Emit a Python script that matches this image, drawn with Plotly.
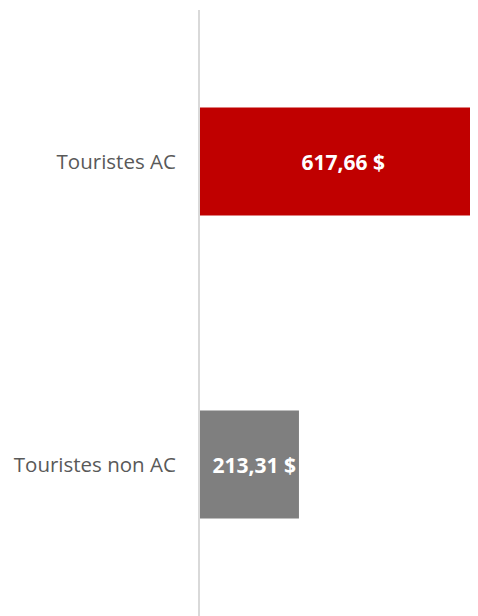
import plotly.graph_objects as go

categories = ["Touristes AC", "Touristes non AC"]
values = [617.66, 213.31]
labels = ["617,66 $", "213,31 $"]
colors = ["#C00000", "#7F7F7F"]
anchors = ["middle", "end"]

fig = go.Figure()
for cat, val, lab, col, anc in zip(categories, values, labels, colors, anchors):
    fig.add_trace(go.Bar(
        y=[cat], x=[val], orientation="h",
        marker=dict(color=col, line=dict(width=0)),
        width=0.356,
        text=[lab], textposition="inside", insidetextanchor=anc,
        constraintext="none",
        textfont=dict(family="Open Sans", size=21, color="white", weight="bold"),
        showlegend=False,
    ))

fig.update_layout(
    width=462, height=608,
    margin=dict(l=192, r=0, t=2, b=0),
    plot_bgcolor="white", paper_bgcolor="white",
    barmode="overlay",
    xaxis=dict(range=[0, 582], visible=False, showgrid=False, zeroline=False),
    yaxis=dict(
        autorange="reversed", showline=True, linecolor="#D9D9D9", linewidth=2,
        showgrid=False, ticks="", ticklabelstandoff=18,
        tickfont=dict(family="Open Sans", size=20.5, color="#595959"),
    ),
)

fig.write_html("out.html")
